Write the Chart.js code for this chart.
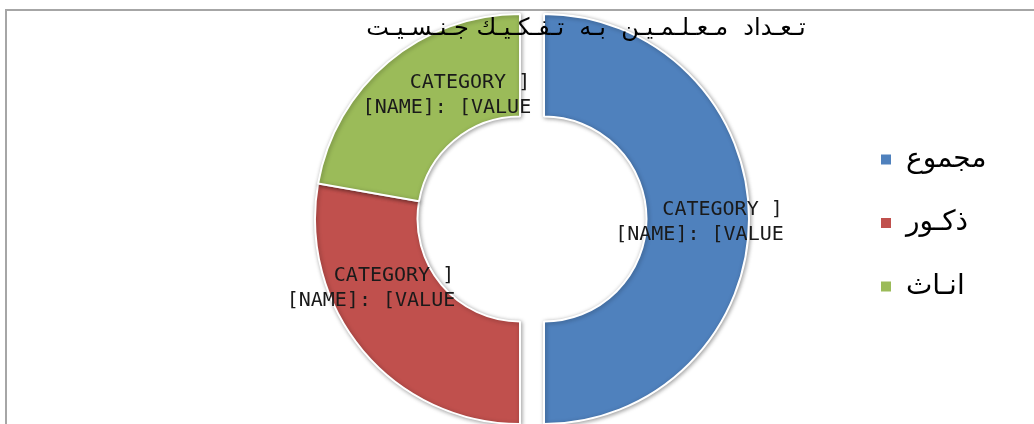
<!DOCTYPE html>
<html>
<head>
<meta charset="utf-8">
<script src="https://cdn.jsdelivr.net/npm/chart.js@4/dist/chart.umd.min.js"></script>
<style>
  html, body { margin: 0; padding: 0; background: #fff; overflow: hidden; }
  #wrap { position: relative; width: 1034px; height: 424px; }
</style>
</head>
<body>
<div id="wrap"><canvas id="c"></canvas></div>
<script>
// ---- data ----
const chartTitle = 'تـعـداد  مـعـلـمـيـن  بـه  تـفـكـيـك جـنـسـيـت';
const categories = ['مجموع', 'ذكـور', 'انـاث'];
const teacherCounts = [225, 125, 100];
const labelLines = ['CATEGORY ]', '[NAME]: [VALUE'];
const sliceColors = ['#4F81BD', '#C0504D', '#9BBB59'];

// ---- layout helpers ----
const legendFontSize = 28;
const legendPad = 35.5;
const legendBox = 12;
const legendLeft = 844.5;
const pieCenterX = 520;
const mctx = document.createElement('canvas').getContext('2d');
mctx.font = legendFontSize + 'px "DejaVu Sans"';
const maxTextW = Math.max(...categories.map(t => mctx.measureText(t).width));
const legendWidth = legendPad + legendBox + legendFontSize / 2 + maxTextW + 10;
const padRight = 1034 - legendLeft - legendWidth;
const padLeft = 2 * pieCenterX - legendLeft;

const framePlugin = {
  id: 'frame',
  beforeDraw(chart) {
    const ctx = chart.ctx;
    ctx.save();
    ctx.fillStyle = '#fff';
    ctx.fillRect(0, 0, chart.width, chart.height);
    ctx.strokeStyle = '#a6a6a6';
    ctx.lineWidth = 2;
    ctx.strokeRect(6, 10, chart.width + 100, chart.height + 100);
    ctx.restore();
  }
};

const explodePlugin = {
  id: 'explode',
  beforeDatasetDraw(chart, args, opts) {
    const ctx = chart.ctx;
    args.meta.data.forEach((arc, i) => {
      const d = opts.distances[i] || 0;
      const mid = (arc.startAngle + arc.endAngle) / 2;
      ctx.save();
      ctx.translate(Math.cos(mid) * d, Math.sin(mid) * d);
      ctx.shadowColor = 'rgba(0,0,0,0.35)';
      ctx.shadowBlur = 4;
      ctx.shadowOffsetX = 1;
      ctx.shadowOffsetY = 1;
      arc.draw(ctx, chart.chartArea);
      ctx.restore();
    });
    return false;
  }
};

const sliceLabelPlugin = {
  id: 'sliceLabels',
  afterDatasetsDraw(chart, args, opts) {
    const ctx = chart.ctx;
    const meta = chart.getDatasetMeta(0);
    const dist = chart.options.plugins.explode.distances;
    ctx.save();
    ctx.font = '20px "DejaVu Sans Mono"';
    ctx.fillStyle = '#1a1a1a';
    ctx.textAlign = 'right';
    ctx.textBaseline = 'middle';
    meta.data.forEach((arc, i) => {
      const p = arc.tooltipPosition();
      const mid = (arc.startAngle + arc.endAngle) / 2;
      const d = dist[i] || 0;
      const off = opts.offsets[i];
      const x = p.x + Math.cos(mid) * d + off[0];
      const y = p.y + Math.sin(mid) * d + off[1];
      ctx.fillText(labelLines[0], x - 1, y - 12.5);
      ctx.fillText(labelLines[1], x, y + 12.5);
    });
    ctx.restore();
  }
};

const titlePlugin = {
  id: 'overTitle',
  afterDraw(chart) {
    const ctx = chart.ctx;
    ctx.save();
    ctx.font = '24px "DejaVu Sans"';
    ctx.fillStyle = '#000';
    ctx.textAlign = 'center';
    ctx.textBaseline = 'middle';
    ctx.fillText(chartTitle, 586, 29);
    ctx.restore();
  }
};

new Chart(document.getElementById('c'), {
  type: 'doughnut',
  data: {
    labels: categories,
    datasets: [{
      data: teacherCounts,
      backgroundColor: sliceColors,
      borderColor: '#ffffff',
      borderWidth: 2
    }]
  },
  options: {
    responsive: true,
    maintainAspectRatio: false,
    animation: false,
    events: [],
    radius: 205,
    cutout: '50%',
    layout: { padding: { left: padLeft, right: padRight, top: 14, bottom: 0 } },
    plugins: {
      explode: { distances: [24, 0, 0] },
      sliceLabels: { offsets: [[86, 3], [53, -30], [110, -5.5]] },
      tooltip: { enabled: false },
      title: { display: false },
      legend: {
        display: true,
        position: 'right',
        align: 'center',
        title: { display: true, text: ' ', font: { size: 6 }, padding: 0.4 },
        labels: {
          color: '#000',
          boxWidth: legendBox,
          boxHeight: legendBox,
          padding: legendPad,
          font: { family: '"DejaVu Sans"', size: legendFontSize }
        }
      }
    }
  },
  plugins: [framePlugin, explodePlugin, sliceLabelPlugin, titlePlugin]
});
</script>
</body>
</html>
